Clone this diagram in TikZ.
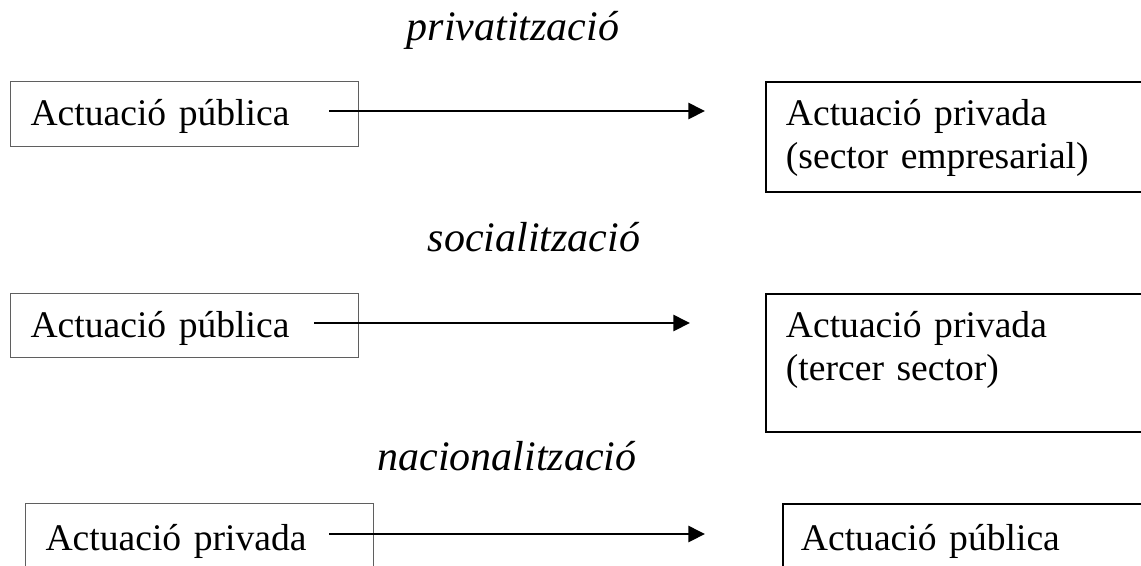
\documentclass[tikz,border=0pt]{standalone}
\usepackage{fontspec}
\setmainfont{Liberation Serif}
\usepackage{tikz}
\usetikzlibrary{arrows.meta, positioning, calc}
\definecolor{boxgray}{RGB}{95, 95, 95}
\newlength{\pxu}
\setlength{\pxu}{0.75pt}

\tikzset{
  box/.style={draw=boxgray, line width=0.8pt, anchor=north west, inner xsep=20\pxu,
    inner ysep=0pt, align=left, font=\fontsize{28.2}{32.25}\selectfont, text height=44\pxu},
  leftbox/.style={box, text width=308\pxu},
  rightbox/.style={box, draw=black, line width=1.4pt, text width=380\pxu},
  title/.style={anchor=base, font=\fontsize{31.5}{36}\selectfont\itshape},
  arr/.style={line width=2pt, -{Triangle[length=12.5pt, width=12pt]}}
}

\begin{document}
\begin{tikzpicture}[x=0.75pt, y=-0.75pt]
  \useasboundingbox (0, 0) rectangle (1141, 565);
  \clip (0, 0) rectangle (1141, 565);

  % privatitzacio
  \node[title] (tpriv) at (513, 40) {privatització};
  \node[leftbox, text depth=21\pxu] (pub1) at (10, 81) {Actuació pública};
  \node[rightbox, text depth=66\pxu] (priv1) at (765, 81) {Actuació privada\\(sector empresarial)};
  \draw[arr] ($(pub1.north east)+(-30, 30)$) -- ($(priv1.north west)+(-60, 30)$);

  % socialitzacio
  \node[title] (tsoc) at (534, 251) {socialització};
  \node[leftbox, text depth=20\pxu] (pub2) at (10, 293) {Actuació pública};
  \node[rightbox, text depth=94\pxu] (priv2) at (765, 293) {Actuació privada\\(tercer sector)};
  \draw[arr] ($(pub2.north east)+(-45, 30)$) -- ($(priv2.north west)+(-75, 30)$);

  % nacionalitzacio
  \node[title] (tnac) at (507, 470) {nacionalització};
  \node[leftbox, text height=47\pxu, text depth=60\pxu] (priv3) at (25, 503) {Actuació privada};
  \node[rightbox, text height=47\pxu, text depth=60\pxu, inner xsep=18\pxu] (pub3) at (782, 503) {Actuació pública};
  \draw[arr] ($(priv3.north east)+(-45, 31)$) -- ($(pub3.north west)+(-77, 31)$);
\end{tikzpicture}
\end{document}
